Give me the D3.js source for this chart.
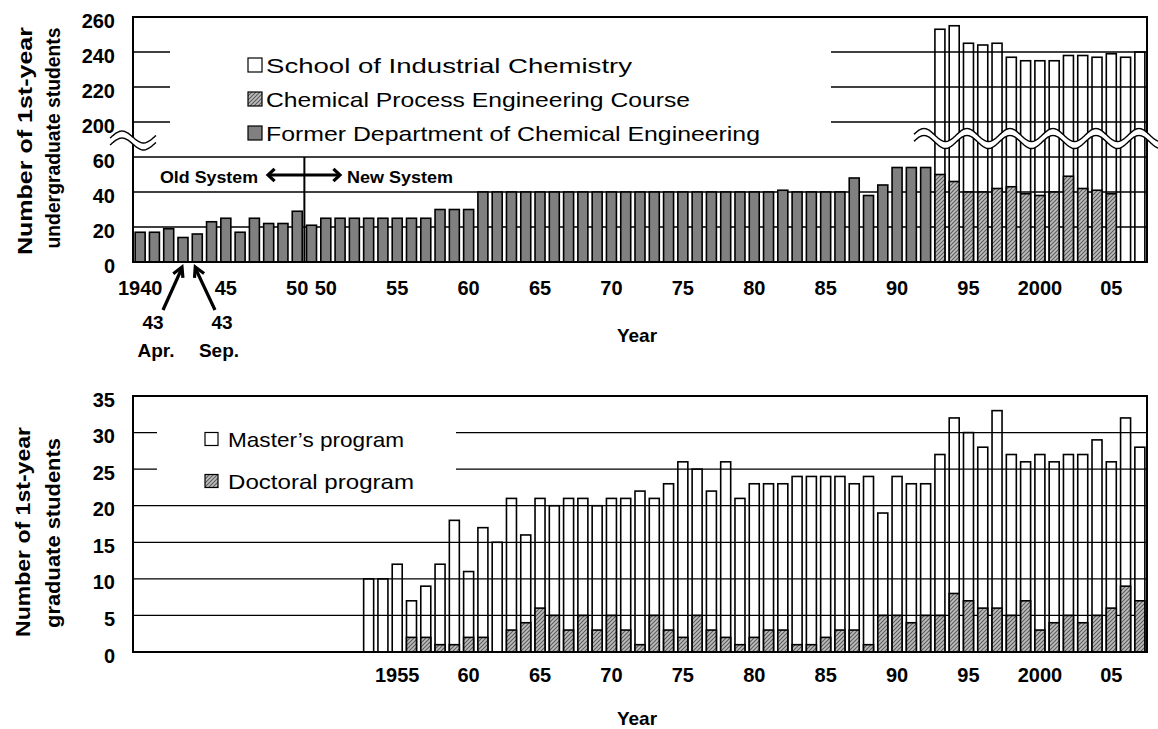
<!DOCTYPE html>
<html>
<head>
<meta charset="utf-8">
<title>Number of 1st-year students</title>
<style>
  body { margin: 0; background: #fff; }
  svg text { font-family: "Liberation Sans", Arial, sans-serif; fill: #000; }
  .tick text { font-weight: bold; font-size: 20px; }
  .bold { font-weight: bold; }
</style>
</head>
<body>
<svg width="1158" height="729"></svg>

<script src="https://d3js.org/d3.v7.min.js"></script>

<script>

    // categories: old system (1940-1950, 1943 twice) then new system (1949-2007)
    var years = ["1940","1941","1942","1943a","1943s","1944","1945","1946","1947","1948","1949o","1950o",
        "1949","1950","1951","1952","1953","1954","1955","1956","1957","1958","1959",
        "1960","1961","1962","1963","1964","1965","1966","1967","1968","1969",
        "1970","1971","1972","1973","1974","1975","1976","1977","1978","1979",
        "1980","1981","1982","1983","1984","1985","1986","1987","1988","1989",
        "1990","1991","1992","1993","1994","1995","1996","1997","1998","1999",
        "2000","2001","2002","2003","2004","2005","2006","2007"];

    // undergraduate (top chart)
    // Former Department of Chemical Engineering, 1940 .. 1992
    var formerDept = [17,17,19,14,16,23,25,17,25,22,22,29,
        21,25,25,25,25,25,25,25,25,30,30,
        30,40,40,40,40,40,40,40,40,40,
        40,40,40,40,40,40,40,40,40,40,
        40,40,41,40,40,40,40,48,38,44,
        54,54,54];
    // Chemical Process Engineering Course, 1993 .. 2005
    var processCourse = [50,46,40,40,42,43,39,38,40,49,42,41,39];
    // School of Industrial Chemistry, 1993 .. 2007
    var schoolIndChem = [253,255,245,244,245,237,235,235,235,238,238,237,239,237,240];

    // graduate (bottom chart), 1953 .. 2007
    var masters = [10,10,12,7,9,12,18,
        11,17,15,21,16,21,20,21,21,20,
        21,21,22,21,23,26,25,22,26,21,
        23,23,23,24,24,24,24,23,24,19,
        24,23,23,27,32,30,28,33,27,26,
        27,26,27,27,29,26,32,28];
    var doctoral = [0,0,0,2,2,1,1,
        2,2,0,3,4,6,5,3,5,3,
        5,3,1,5,3,2,5,3,2,1,
        2,3,3,1,1,2,3,3,1,5,
        5,4,5,5,8,7,6,6,5,7,
        3,4,5,4,5,6,9,7];

    var lowTicks = [0, 20, 40, 60],
        upTicks = [200, 220, 240, 260],
        gradTicks = [0, 5, 10, 15, 20, 25, 30, 35];

    var topTickKeys = ["1940","1945","1950o","1950","1955","1960","1965","1970","1975","1980","1985","1990","1995","2000","2005"],
        topTickText = ["1940","45","50","50","55","60","65","70","75","80","85","90","95","2000","05"];
    var botTickKeys = ["1955","1960","1965","1970","1975","1980","1985","1990","1995","2000","2005"],
        botTickText = ["1955","60","65","70","75","80","85","90","95","2000","05"];

    var svg = d3.select("svg");

    var left = 133, right = 1147;

    var x = d3.scaleBand().domain(years).range([left, right])
        .paddingInner(0.3).paddingOuter(0.15);
    var bw = x.bandwidth();

    // hatch pattern
    var defs = svg.append("defs");
    var pat = defs.append("pattern").attr("id", "hatch")
        .attr("patternUnits", "userSpaceOnUse").attr("width", 4).attr("height", 4);
    pat.append("rect").attr("width", 4).attr("height", 4).attr("fill", "#bdbdbd");
    pat.append("path").attr("d", "M-1,1 l2,-2 M0,4 l4,-4 M3,5 l2,-2")
        .attr("stroke", "#5a5a5a").attr("stroke-width", 1.1);

    function wavePts(x0, x1, yc, amp, crestX, period) {
        return d3.range(x0, x1 + 0.5, 1).map(function(px) {
            return [px, yc - amp * Math.cos(2 * Math.PI * (px - crestX) / period)];
        });
    }
    function drawBreak(g, x0, x1, yc, amp, crestX, gap) {
        var up = wavePts(x0, x1, yc, amp, crestX, 43);
        var lo = up.map(function(p) { return [p[0], p[1] + gap]; });
        g.append("path").attr("d", d3.line()(up.concat(lo.slice().reverse())) + "Z")
            .attr("fill", "#fff");
        [up, lo].forEach(function(pts) {
            g.append("path").attr("d", d3.line().curve(d3.curveBasis)(pts))
                .attr("fill", "none").attr("stroke", "#000").attr("stroke-width", 1.4);
        });
    }
    function arrowHead(g, tx, ty, fx, fy, len, ang) {
        var a = Math.atan2(fy - ty, fx - tx);
        var p1 = [tx + len * Math.cos(a + ang), ty + len * Math.sin(a + ang)],
            p2 = [tx + len * Math.cos(a - ang), ty + len * Math.sin(a - ang)];
        g.append("path").attr("d", "M" + p1 + "L" + [tx, ty] + "L" + p2)
            .attr("fill", "none").attr("stroke", "#000").attr("stroke-width", 3.2)
            .attr("stroke-linejoin", "miter");
    }

    // ================= TOP CHART =================
    var base = 262;
    var yLo = d3.scaleLinear().domain([0, 60]).range([262, 157]);
    var yUp = d3.scaleLinear().domain([200, 260]).range([122, 17]);

    var gTop = svg.append("g");

    // gridlines
    gTop.selectAll(".glo").data([20, 40, 60]).enter().append("line")
        .attr("x1", left).attr("x2", right)
        .attr("y1", function(d) { return yLo(d); }).attr("y2", function(d) { return yLo(d); })
        .attr("stroke", "#000").attr("stroke-width", 1.3);
    gTop.selectAll(".gup").data([200, 220, 240]).enter().append("line")
        .attr("x1", left).attr("x2", right)
        .attr("y1", function(d) { return yUp(d); }).attr("y2", function(d) { return yUp(d); })
        .attr("stroke", "#000").attr("stroke-width", 1.3);

    // legend box (hides gridlines)
    gTop.append("rect").attr("x", 170).attr("y", 24).attr("width", 661).attr("height", 126).attr("fill", "#fff");

    // bars
    var schoolKeys = years.slice(years.indexOf("1993"));
    gTop.selectAll(".school").data(schoolIndChem).enter().append("rect")
        .attr("x", function(d, i) { return x(schoolKeys[i]); })
        .attr("y", function(d) { return yUp(d); })
        .attr("width", bw)
        .attr("height", function(d) { return base - yUp(d); })
        .attr("fill", "none").attr("stroke", "#000").attr("stroke-width", 1.6);

    gTop.selectAll(".former").data(formerDept).enter().append("rect")
        .attr("x", function(d, i) { return x(years[i]); })
        .attr("y", function(d) { return yLo(d); })
        .attr("width", bw)
        .attr("height", function(d) { return base - yLo(d); })
        .attr("fill", "#808080").attr("stroke", "#000").attr("stroke-width", 1.6);

    gTop.selectAll(".process").data(processCourse).enter().append("rect")
        .attr("x", function(d, i) { return x(schoolKeys[i]); })
        .attr("y", function(d) { return yLo(d); })
        .attr("width", bw)
        .attr("height", function(d) { return base - yLo(d); })
        .attr("fill", "url(#hatch)").attr("stroke", "#000").attr("stroke-width", 1.6);

    // frame
    gTop.append("rect").attr("x", left).attr("y", 17).attr("width", right - left).attr("height", base - 17)
        .attr("fill", "none").attr("stroke", "#000").attr("stroke-width", 2);

    // old / new system divider
    var divX = (x("1950o") + bw + x("1949")) / 2;
    gTop.append("line").attr("x1", divX).attr("x2", divX).attr("y1", yLo(60)).attr("y2", base)
        .attr("stroke", "#000").attr("stroke-width", 2);

    gTop.append("text").attr("class", "bold").attr("x", 160).attr("y", 177)
        .attr("dominant-baseline", "central").attr("font-size", 17)
        .attr("textLength", 98).attr("lengthAdjust", "spacingAndGlyphs").text("Old System");
    gTop.append("text").attr("class", "bold").attr("x", 347).attr("y", 177)
        .attr("dominant-baseline", "central").attr("font-size", 17)
        .attr("textLength", 106).attr("lengthAdjust", "spacingAndGlyphs").text("New System");
    gTop.append("line").attr("x1", 269).attr("x2", 338).attr("y1", 175).attr("y2", 175)
        .attr("stroke", "#000").attr("stroke-width", 3.2);
    arrowHead(gTop, 268, 175, 300, 175, 9, 0.75);
    arrowHead(gTop, 340, 175, 300, 175, 9, 0.75);

    // axis break marks
    drawBreak(gTop, 914, 1158, 135, 6.5, 967, 7);
    drawBreak(gTop, 110, 156, 137, 6, 122, 7);

    // y axis labels
    [[yLo, lowTicks], [yUp, upTicks]].forEach(function(p) {
        var ax = gTop.append("g").attr("transform", "translate(" + left + ",0)")
            .call(d3.axisLeft(p[0]).tickValues(p[1]).tickSize(0).tickPadding(18));
        ax.select(".domain").remove();
        ax.selectAll("text").attr("dy", "0.52em").attr("font-family", null);
    });

    // x axis labels
    var xa = gTop.append("g").attr("transform", "translate(0," + base + ")")
        .call(d3.axisBottom(x).tickValues(topTickKeys)
            .tickFormat(function(d) { return topTickText[topTickKeys.indexOf(d)]; })
            .tickSize(0).tickPadding(19));
    xa.select(".domain").remove();
    xa.selectAll("text").attr("font-family", null);

    // 1943 annotations
    var a1 = x("1943a") + bw / 2 - 1, a2 = x("1943s") + bw / 2 - 2;
    gTop.append("line").attr("x1", 163).attr("y1", 310).attr("x2", a1).attr("y2", 268)
        .attr("stroke", "#000").attr("stroke-width", 3.2);
    arrowHead(gTop, a1, 267, 163, 310, 11, 0.5);
    gTop.append("line").attr("x1", 215).attr("y1", 310).attr("x2", a2).attr("y2", 268)
        .attr("stroke", "#000").attr("stroke-width", 3.2);
    arrowHead(gTop, a2, 267, 215, 310, 11, 0.5);
    [["43", 153, 322], ["43", 222, 322], ["Apr.", 156, 350], ["Sep.", 219, 350]].forEach(function(t) {
        gTop.append("text").attr("class", "bold").attr("x", t[1]).attr("y", t[2])
            .attr("text-anchor", "middle").attr("dominant-baseline", "central")
            .attr("font-size", 19).text(t[0]);
    });

    gTop.append("text").attr("class", "bold").attr("x", 637).attr("y", 335)
        .attr("text-anchor", "middle").attr("dominant-baseline", "central")
        .attr("font-size", 19).text("Year");

    // y title
    [["Number of 1st-year", 24, 141, 228, 21], ["undergraduate students", 53, 138, 221, 20]].forEach(function(t) {
        gTop.append("text").attr("class", "bold")
            .attr("transform", "translate(" + t[1] + "," + t[2] + ") rotate(-90)")
            .attr("text-anchor", "middle").attr("dominant-baseline", "central")
            .attr("font-size", t[4]).attr("textLength", t[3]).attr("lengthAdjust", "spacingAndGlyphs")
            .text(t[0]);
    });

    // legend
    var legTop = [
        { label: "School of Industrial Chemistry", fill: "#fff", w: 366 },
        { label: "Chemical Process Engineering Course", fill: "url(#hatch)", w: 424 },
        { label: "Former Department of Chemical Engineering", fill: "#808080", w: 494 }
    ];
    legTop.forEach(function(d, i) {
        var cy = 65 + i * 34;
        gTop.append("rect").attr("x", 248).attr("y", cy - 7).attr("width", 14).attr("height", 14)
            .attr("fill", d.fill).attr("stroke", "#000").attr("stroke-width", 1.2);
        gTop.append("text").attr("x", 266).attr("y", cy).attr("dominant-baseline", "central")
            .attr("font-size", 21).attr("textLength", d.w).attr("lengthAdjust", "spacingAndGlyphs")
            .text(d.label);
    });

    // ================= BOTTOM CHART =================
    var base2 = 652;
    var y2 = d3.scaleLinear().domain([0, 35]).range([base2, 396]);
    var gBot = svg.append("g");

    gBot.selectAll(".g2").data([5, 10, 15, 20, 25, 30]).enter().append("line")
        .attr("x1", left).attr("x2", right)
        .attr("y1", function(d) { return y2(d); }).attr("y2", function(d) { return y2(d); })
        .attr("stroke", "#000").attr("stroke-width", 1.3);

    gBot.append("rect").attr("x", 157).attr("y", 405).attr("width", 299).attr("height", 92).attr("fill", "#fff");

    var gradKeys = years.slice(years.indexOf("1953"));
    gBot.selectAll(".master").data(masters).enter().append("rect")
        .attr("x", function(d, i) { return x(gradKeys[i]); })
        .attr("y", function(d) { return y2(d); })
        .attr("width", bw)
        .attr("height", function(d) { return base2 - y2(d); })
        .attr("fill", "none").attr("stroke", "#000").attr("stroke-width", 1.6);

    var docData = doctoral.map(function(v, i) { return { k: gradKeys[i], v: v }; })
        .filter(function(d) { return d.v > 0; });
    gBot.selectAll(".doc").data(docData).enter().append("rect")
        .attr("x", function(d) { return x(d.k); })
        .attr("y", function(d) { return y2(d.v); })
        .attr("width", bw)
        .attr("height", function(d) { return base2 - y2(d.v); })
        .attr("fill", "url(#hatch)").attr("stroke", "#000").attr("stroke-width", 1.6);

    gBot.append("rect").attr("x", left).attr("y", 396).attr("width", right - left).attr("height", base2 - 396)
        .attr("fill", "none").attr("stroke", "#000").attr("stroke-width", 2);

    var ya2 = gBot.append("g").attr("transform", "translate(" + left + ",0)")
        .call(d3.axisLeft(y2).tickValues(gradTicks).tickSize(0).tickPadding(18));
    ya2.select(".domain").remove();
    ya2.selectAll("text").attr("dy", "0.5em").attr("font-family", null);

    var xa2 = gBot.append("g").attr("transform", "translate(0," + base2 + ")")
        .call(d3.axisBottom(x).tickValues(botTickKeys)
            .tickFormat(function(d) { return botTickText[botTickKeys.indexOf(d)]; })
            .tickSize(0).tickPadding(16));
    xa2.select(".domain").remove();
    xa2.selectAll("text").attr("font-family", null);

    gBot.append("text").attr("class", "bold").attr("x", 637).attr("y", 718)
        .attr("text-anchor", "middle").attr("dominant-baseline", "central")
        .attr("font-size", 19).text("Year");

    [["Number of 1st-year", 23, 532, 210], ["graduate students", 53, 533, 190]].forEach(function(t) {
        gBot.append("text").attr("class", "bold")
            .attr("transform", "translate(" + t[1] + "," + t[2] + ") rotate(-90)")
            .attr("text-anchor", "middle").attr("dominant-baseline", "central")
            .attr("font-size", 20).attr("textLength", t[3]).attr("lengthAdjust", "spacingAndGlyphs")
            .text(t[0]);
    });

    var legBot = [
        { label: "Master\u2019s program", fill: "#fff", w: 176 },
        { label: "Doctoral program", fill: "url(#hatch)", w: 186 }
    ];
    legBot.forEach(function(d, i) {
        var cy = 439 + i * 42;
        gBot.append("rect").attr("x", 205).attr("y", cy - 6.5).attr("width", 13).attr("height", 13)
            .attr("fill", d.fill).attr("stroke", "#000").attr("stroke-width", 1.2);
        gBot.append("text").attr("x", 228).attr("y", cy).attr("dominant-baseline", "central")
            .attr("font-size", 21).attr("textLength", d.w).attr("lengthAdjust", "spacingAndGlyphs")
            .text(d.label);
    });

</script>
</body>
</html>
